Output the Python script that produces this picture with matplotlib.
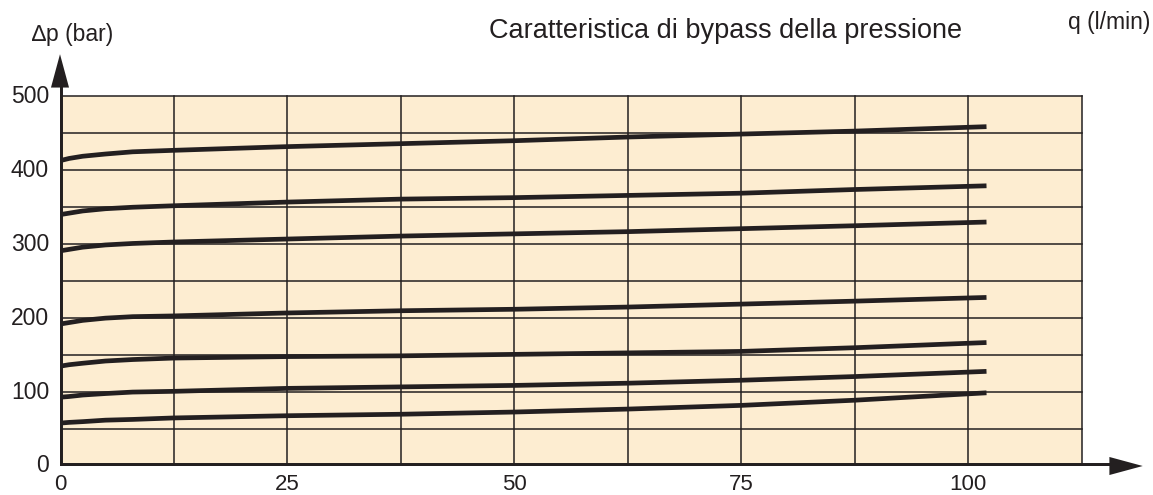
import matplotlib
matplotlib.use("Agg")
import matplotlib.pyplot as plt

plt.rcParams["font.family"] = ["Liberation Sans", "DejaVu Sans"]

# Data
flow = [0, 1, 2.5, 5, 8, 12.5, 25, 37.5, 50, 62.5, 75, 87.5, 102]
curve_460 = [413, 416, 419, 422, 425, 427, 432, 436, 440, 445, 449, 453, 459]
curve_380 = [340, 342, 345, 348, 350, 352, 357, 361, 363, 366, 369, 374, 379]
curve_330 = [291, 293, 296, 299, 301, 303, 307, 311, 314, 317, 321, 325, 330]
curve_230 = [192, 194, 197, 200, 202, 203, 207, 210, 212, 215, 219, 223, 228]
curve_165 = [135, 137, 139, 142, 144, 146, 148, 149, 151, 153, 155, 160, 167]
curve_130 = [93, 94, 96, 98, 100, 101, 105, 107, 109, 112, 116, 121, 128]
curve_100 = [58, 59, 60, 62, 63, 65, 68, 70, 73, 77, 82, 89, 99]
curves = [curve_460, curve_380, curve_330, curve_230, curve_165, curve_130, curve_100]

x_ticks = [0, 25, 50, 75, 100]
y_ticks = [0, 100, 200, 300, 400, 500]
x_grid = [12.5, 25, 37.5, 50, 62.5, 75, 87.5, 100, 112.5]
y_grid = [50, 100, 150, 200, 250, 300, 350, 400, 450, 500]

INK = "#231f20"
PAPER = "#fdedd1"
X_MAX, Y_MAX = 112.5, 500

fig = plt.figure(figsize=(11.53, 4.95), dpi=100)
ax = fig.add_axes([60 / 1153, 29 / 495, 1090 / 1153, 414 / 495])
ax.set_xlim(0, 120)
ax.set_ylim(0, 560)
ax.axis("off")

# background panel + grid
ax.fill_between([0, X_MAX], 0, Y_MAX, color=PAPER, lw=0, zorder=0)
for gx in x_grid:
    ax.plot([gx, gx], [0, Y_MAX], color=INK, lw=1.1, zorder=1)
for gy in y_grid:
    ax.plot([0, X_MAX], [gy, gy], color=INK, lw=1.1, zorder=1)

# characteristic curves
for c in curves:
    ax.plot(flow, c, color=INK, lw=3.4, solid_capstyle="butt", zorder=3)

# axes: thick lines plus filled arrow heads
ax.plot([-0.25, 116], [0, 0], color=INK, lw=4.3, solid_capstyle="butt", zorder=4)
ax.plot([0, 0], [-2, 530], color=INK, lw=4.3, solid_capstyle="butt", zorder=4)
head = dict(arrowstyle="-|>,head_length=2.4,head_width=0.65", color=INK,
            lw=0, mutation_scale=10, shrinkA=0, shrinkB=0)
ax.annotate("", xy=(119.2, 0), xytext=(100, 0), arrowprops=head, zorder=5)
ax.annotate("", xy=(0, 557), xytext=(0, 450), arrowprops=head, zorder=5)

# tick labels
for t in x_ticks:
    ax.text(t, -11, str(t), ha="center", va="top", fontsize=16, color=INK)
for t in y_ticks:
    ax.text(-1.2, t, str(t), ha="right", va="center", fontsize=16.5, color=INK)

fig.text(32 / 1153, 1 - 35 / 495, "\u2206p (bar)", ha="left", va="center",
         fontsize=16.5, color=INK)
fig.text(1150 / 1153, 1 - 22 / 495, "q (l/min)", ha="right", va="center",
         fontsize=16.5, color=INK)
fig.text(726 / 1153, 1 - 31 / 495, "Caratteristica di bypass della pressione",
         ha="center", va="center", fontsize=19.5, color=INK)

fig.savefig("out.png", dpi=100)
